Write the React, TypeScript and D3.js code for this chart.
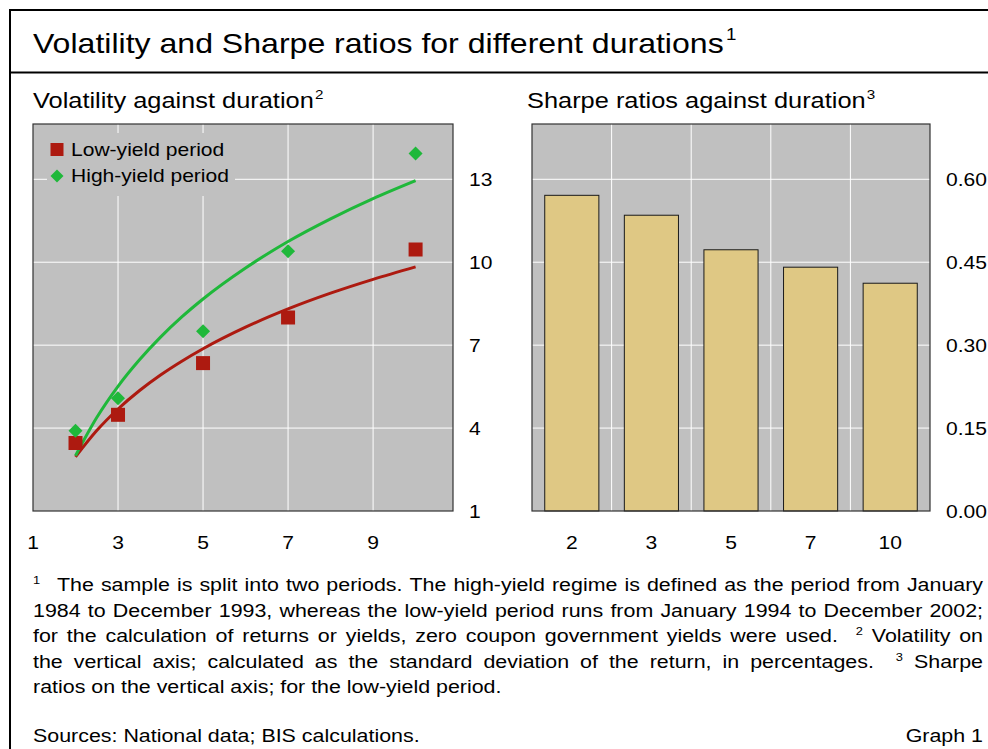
import React, { useMemo } from 'react';
import * as d3 from 'd3';

// durations (years) and the two volatility regimes
const durations = [2, 3, 5, 7, 10];
const lowYield = [3.46, 4.48, 6.35, 8.0, 10.46];
const highYield = [3.9, 5.08, 7.5, 10.4, 13.93];

// fitted curves
const fitDur = [2, 2.5, 3, 3.5, 4, 4.5, 5, 6, 7, 8, 9, 10];
const lowFit = [2.96, 3.91, 4.69, 5.35, 5.92, 6.42, 6.87, 7.65, 8.31, 8.88, 9.38, 9.83];
const highFit = [3.0, 4.38, 5.51, 6.46, 7.29, 8.02, 8.67, 9.79, 10.75, 11.57, 12.3, 12.95];

// Sharpe ratios, low-yield period
const barCats = ['2', '3', '5', '7', '10'];
const sharpe = [0.571, 0.535, 0.4725, 0.441, 0.412];

const volXTicks = [1, 3, 5, 7, 9];
const volYTicks = [1, 4, 7, 10, 13];
const sharpeTicks = [0, 0.15, 0.3, 0.45, 0.6];

const footLines = [
  'The sample is split into two periods. The high-yield regime is defined as the period from January',
  '1984 to December 1993, whereas the low-yield period runs from January 1994 to December 2002;',
  'for the calculation of returns or yields, zero coupon government yields were used.  ^2 Volatility on',
  'the vertical axis; calculated as the standard deviation of the return, in percentages.  ^3 Sharpe',
  'ratios on the vertical axis; for the low-yield period.',
];

const FONT = '"Liberation Sans", Arial, sans-serif';
const SX = 1.17; // the source type is set a bit wide
const RED = '#ad1a10';
const GREEN = '#1fb83a';
const GRID = '#ffffff';
const PANEL = '#c0c0c0';

let ctx: CanvasRenderingContext2D | null = null;
function measure(s: string, size: number) {
  if (!ctx) ctx = document.createElement('canvas').getContext('2d');
  ctx!.font = `${size}px "Liberation Sans"`;
  return ctx!.measureText(s).width;
}

function T({ x, y, size, anchor = 'start', children }: any) {
  return (
    <text
      transform={`translate(${x},${y}) scale(${SX},1)`}
      fontSize={size}
      textAnchor={anchor}
      fontFamily={FONT}
      fill="#000"
    >
      {children}
    </text>
  );
}

// lay a line out word by word so it fills the given width
function justify(line: string, width: number, size: number, supSize: number, stretch: boolean) {
  const parts = line.match(/\S+| +/g) || [];
  const sp = measure(' ', size);
  let natural = 0;
  let spaces = 0;
  parts.forEach((p) => {
    if (p[0] === ' ') { natural += sp * p.length; spaces += p.length; }
    else if (p[0] === '^') natural += measure(p.slice(1), supSize);
    else natural += measure(p, size);
  });
  const local = width / SX;
  const extra = stretch && spaces ? (local - natural) / spaces : 0;
  const out: { t: string; x: number; sup: boolean }[] = [];
  let cx = 0;
  parts.forEach((p) => {
    if (p[0] === ' ') { cx += (sp + extra) * p.length; return; }
    const sup = p[0] === '^';
    const t = sup ? p.slice(1) : p;
    out.push({ t, x: cx, sup });
    cx += measure(t, sup ? supSize : size);
  });
  return out;
}

function Footnote({ line, x, y, width, stretch }: any) {
  const words = useMemo(() => justify(line, width, 18.3, 11, stretch), [line, width, stretch]);
  return (
    <text transform={`translate(${x},${y}) scale(${SX},1)`} fontFamily={FONT} fill="#000">
      {words.map((w, i) => (
        <tspan key={i} x={w.x} y={w.sup ? -7 : 0} fontSize={w.sup ? 11 : 18.3}>
          {w.t}
        </tspan>
      ))}
    </text>
  );
}

export default function App() {
  const W = 988;
  const H = 749;

  // left panel
  const L = { x0: 33, x1: 453, y0: 124, y1: 511 };
  const x = d3.scaleLinear().domain([1, 10.88]).range([L.x0, L.x1]);
  const y = d3.scaleLinear().domain([1, 15]).range([L.y1, L.y0]);
  const line = d3.line<number>().x((_, i) => x(fitDur[i])).y((d) => y(d)).curve(d3.curveMonotoneX);

  // right panel
  const R = { x0: 532, x1: 930, y0: 124, y1: 511 };
  const xb = d3.scaleBand<string>().domain(barCats).range([R.x0, R.x1]).paddingInner(0.32).paddingOuter(0.16);
  const yb = d3.scaleLinear().domain([0, 0.7]).range([R.y1, R.y0]);
  const step = xb.step();
  const bandEdges = barCats.slice(1).map((c) => (xb(c) as number) - (step * 0.32) / 2);

  const sq = 14;
  const dm = 7;

  return (
    <svg width={W} height={H} style={{ position: 'absolute', left: 0, top: 0 }}>
      <rect width={W} height={H} fill="#fff" />
      {/* frame */}
      <line x1={10} x2={W} y1={10} y2={10} stroke="#000" strokeWidth={2} />
      <line x1={10} x2={W} y1={72.5} y2={72.5} stroke="#000" strokeWidth={2} />
      <line x1={10} x2={10} y1={9} y2={H} stroke="#000" strokeWidth={2} />

      <T x={33} y={53} size={27.4}>
        Volatility and Sharpe ratios for different durations
        <tspan fontSize={16} dx={2} dy={-13}>1</tspan>
      </T>

      <T x={33} y={108} size={21.7}>
        Volatility against duration
        <tspan fontSize={13} dx={1} dy={-9}>2</tspan>
      </T>
      <T x={527} y={108} size={21.7}>
        Sharpe ratios against duration
        <tspan fontSize={13} dx={1} dy={-9}>3</tspan>
      </T>

      {/* volatility panel */}
      <rect x={L.x0} y={L.y0} width={L.x1 - L.x0} height={L.y1 - L.y0} fill={PANEL} />
      {volXTicks.slice(1).map((t) => (
        <line key={t} x1={x(t)} x2={x(t)} y1={L.y0} y2={L.y1} stroke={GRID} strokeWidth={1} />
      ))}
      {volYTicks.slice(1).map((t) => (
        <line key={t} x1={L.x0} x2={L.x1} y1={y(t)} y2={y(t)} stroke={GRID} strokeWidth={1} />
      ))}
      <rect x={L.x0} y={L.y0} width={L.x1 - L.x0} height={L.y1 - L.y0} fill="none" stroke="#333" strokeWidth={1.2} />

      {/* legend */}
      <rect x={47} y={133} width={188} height={63} fill={PANEL} />
      <rect x={50.5} y={143} width={13} height={13} fill={RED} />
      <T x={71} y={156} size={18}>Low-yield period</T>
      <path d={`M57,169.5 L63.5,176 L57,182.5 L50.5,176 Z`} fill={GREEN} />
      <T x={71} y={182} size={18}>High-yield period</T>

      <path d={line(lowFit) || ''} fill="none" stroke={RED} strokeWidth={3} />
      <path d={line(highFit) || ''} fill="none" stroke={GREEN} strokeWidth={3} />

      {durations.map((d, i) => (
        <rect key={'l' + d} x={x(d) - sq / 2} y={y(lowYield[i]) - sq / 2} width={sq} height={sq} fill={RED} />
      ))}
      {durations.map((d, i) => {
        const cx = x(d);
        const cy = y(highYield[i]);
        return (
          <path key={'h' + d} d={`M${cx},${cy - dm} L${cx + dm},${cy} L${cx},${cy + dm} L${cx - dm},${cy} Z`} fill={GREEN} />
        );
      })}

      {volXTicks.map((t) => (
        <T key={t} x={x(t)} y={549} size={18} anchor="middle">{t}</T>
      ))}
      {volYTicks.map((t) => (
        <T key={t} x={469} y={y(t) + 6.5} size={18}>{t}</T>
      ))}

      {/* sharpe panel */}
      <rect x={R.x0} y={R.y0} width={R.x1 - R.x0} height={R.y1 - R.y0} fill={PANEL} />
      {bandEdges.map((e, i) => (
        <line key={i} x1={e} x2={e} y1={R.y0} y2={R.y1} stroke={GRID} strokeWidth={1} />
      ))}
      {sharpeTicks.slice(1).map((t) => (
        <line key={t} x1={R.x0} x2={R.x1} y1={yb(t)} y2={yb(t)} stroke={GRID} strokeWidth={1} />
      ))}
      {barCats.map((c, i) => (
        <rect
          key={c}
          x={xb(c)}
          y={yb(sharpe[i])}
          width={xb.bandwidth()}
          height={R.y1 - yb(sharpe[i])}
          fill="#dfc884"
          stroke="#1a1a1a"
          strokeWidth={1}
        />
      ))}
      <rect x={R.x0} y={R.y0} width={R.x1 - R.x0} height={R.y1 - R.y0} fill="none" stroke="#333" strokeWidth={1.2} />
      {barCats.map((c) => (
        <T key={c} x={(xb(c) as number) + xb.bandwidth() / 2} y={549} size={18} anchor="middle">{c}</T>
      ))}
      {sharpeTicks.map((t) => (
        <T key={t} x={946} y={yb(t) + 6.5} size={18}>{t.toFixed(2)}</T>
      ))}

      {/* notes */}
      <T x={33} y={584} size={11}>1</T>
      <Footnote line={footLines[0]} x={57} y={591} width={926} stretch />
      {footLines.slice(1).map((l, i) => (
        <Footnote key={i} line={l} x={33} y={616.5 + i * 25.5} width={950} stretch={i < 3} />
      ))}
      <T x={33} y={742} size={18.3}>Sources: National data; BIS calculations.</T>
      <T x={983} y={742} size={18.3} anchor="end">Graph 1</T>
    </svg>
  );
}
